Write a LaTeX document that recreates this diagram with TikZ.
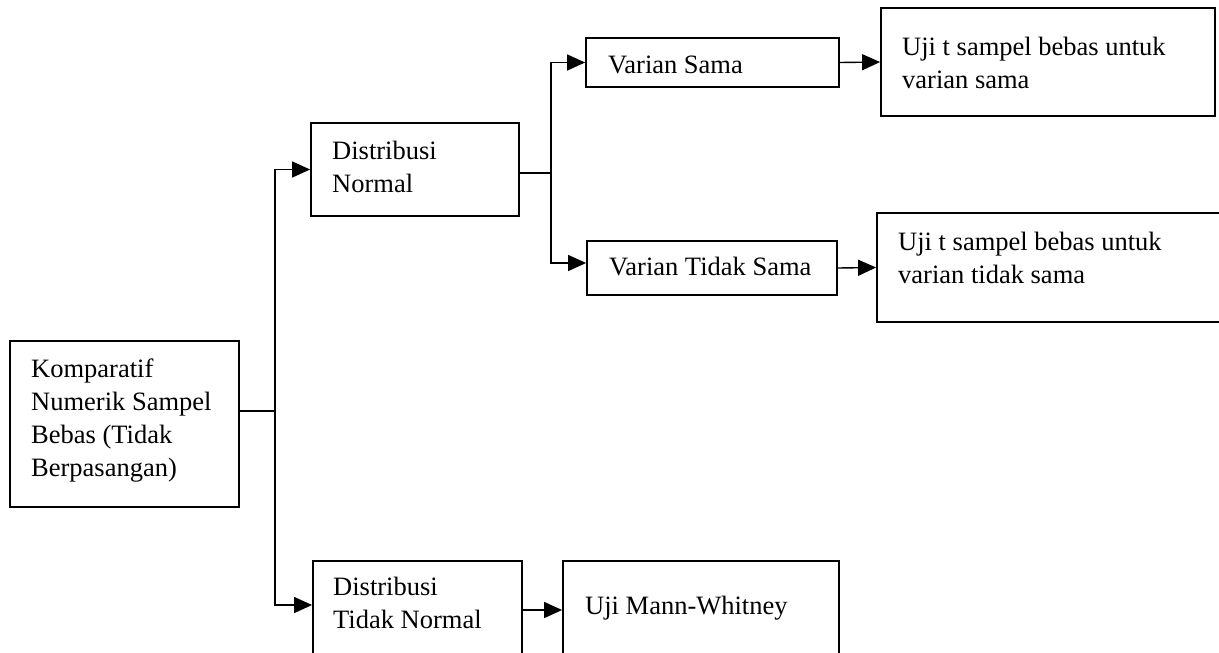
\documentclass[tikz,border=0pt]{standalone}
\usepackage{fontspec}
\setmainfont{Liberation Serif}
\usetikzlibrary{arrows.meta}
\begin{document}
\begin{tikzpicture}[x=1pt,y=-1pt,
  box/.style={draw=black,line width=1.8pt,inner sep=0pt,minimum width=#1},
  lbl/.style={anchor=north west,inner sep=0pt,align=left,font=\fontsize{26.5}{33}\selectfont},
  conn/.style={line width=1.4pt},
  arr/.style={line width=1.4pt,-{Triangle[length=18pt,width=16pt]}}]
\useasboundingbox (0,0) rectangle (1219,653);
\clip (0,0) rectangle (1219,653);
% boxes
\node[box=229pt,minimum height=166pt] (kom)  at (124.5,424) {};
\node[box=208pt,minimum height=93pt]  (dn)   at (415,169.5) {};
\node[box=253pt,minimum height=49pt]  (vs)   at (712.5,62.5) {};
\node[box=334pt,minimum height=108pt] (ujis) at (1048,62) {};
\node[box=250pt,minimum height=54pt]  (vts)  at (712,268) {};
\node[box=363pt,minimum height=109pt] (ujit) at (1058.5,267.5) {};
\node[box=209pt,minimum height=98pt]  (dtn)  at (417.5,610) {};
\node[box=276pt,minimum height=98pt]  (mann) at (701,610) {};
% texts
\node[lbl] (kom-t)  at (31,354)  {\strut Komparatif\\Numerik Sampel\\Bebas (Tidak\\Berpasangan)};
\node[lbl] (dn-t)   at (332,136) {\strut Distribusi\\Normal};
\node[lbl] (vs-t)   at (608,50)  {\strut Varian Sama};
\node[lbl] (ujis-t) at (902,32)  {\strut Uji t sampel bebas untuk\\varian sama};
\node[lbl] (vts-t)  at (609,252) {\strut Varian Tidak Sama};
\node[lbl] (ujit-t) at (898,227) {\strut Uji t sampel bebas untuk\\varian tidak sama};
\node[lbl] (dtn-t)  at (333,572) {\strut Distribusi\\Tidak Normal};
\node[lbl] (mann-t) at (585,591) {\strut Uji Mann-Whitney};
% junctions
\coordinate (j1) at (275,411);
\coordinate (j2) at (275,605);
\coordinate (j3) at (551,173);
\coordinate (j4) at (551,263);
% connectors
\draw[conn] (kom.east |- j1) -- (j1);
\draw[arr] (j1) |- (dn.west);
\draw[arr] (j1) -- (j2) -- (dtn.west |- j2);
\draw[conn] (dn.east |- j3) -- (j3);
\draw[arr] (j3) |- (vs.west);
\draw[arr] (j3) -- (j4) -- (vts.west |- j4);
\draw[arr] (vs.east) -- (ujis.west);
\draw[arr] (vts.east) -- (ujit.west);
\draw[arr] (dtn.east) -- (mann.west);
\end{tikzpicture}
\end{document}
